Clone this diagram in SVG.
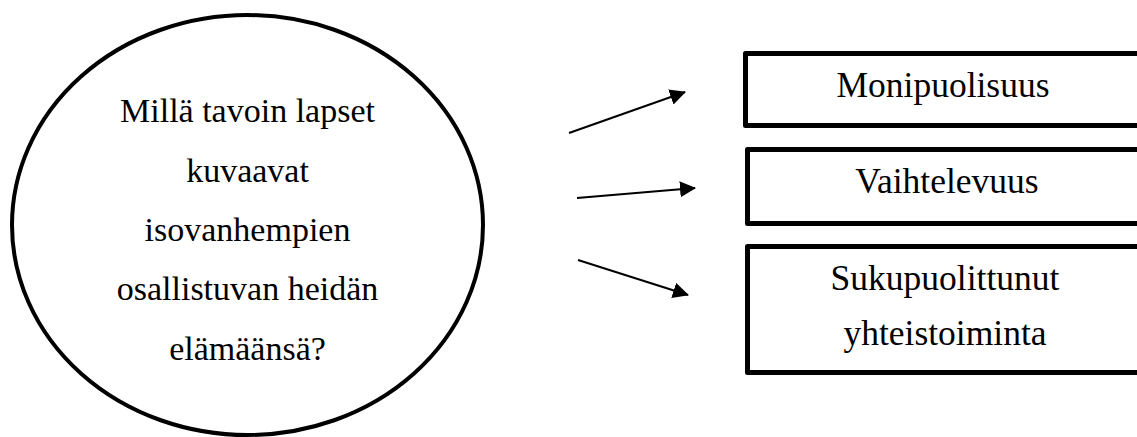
<svg xmlns="http://www.w3.org/2000/svg" width="1137" height="437" viewBox="0 0 1137 437">
<style>
text{font-family:"Liberation Serif","DejaVu Serif",serif;font-size:34px;fill:#000;text-anchor:middle}
.bt{font-size:35.5px}
.box{fill:#fff;stroke:#000;stroke-width:5;stroke-linejoin:round}
.ell{fill:#fff;stroke:#000;stroke-width:4}
.con{stroke:#000;stroke-width:2;fill:none}
</style>
<defs>
<marker id="ah" markerWidth="8" markerHeight="8" refX="7.5" refY="4" orient="auto" markerUnits="strokeWidth">
<path d="M0,0 L8,4 L0,8 Z" fill="#000"/>
</marker>
</defs>
<rect width="1137" height="437" fill="#fff"/>
<g id="question">
<ellipse class="ell" cx="247.5" cy="225" rx="235.5" ry="210"/>
<text x="247.5" y="122">Millä tavoin lapset</text>
<text x="247.5" y="182">kuvaavat</text>
<text x="247.5" y="241">isovanhempien</text>
<text x="247.5" y="300">osallistuvan heidän</text>
<text x="247.5" y="360">elämäänsä?</text>
</g>
<g id="monipuolisuus">
<rect class="box" x="745.5" y="53.5" width="400" height="72"/>
<text class="bt" x="943" y="97">Monipuolisuus</text>
</g>
<g id="vaihtelevuus">
<rect class="box" x="747.5" y="149.5" width="400" height="74"/>
<text class="bt" x="947" y="193">Vaihtelevuus</text>
</g>
<g id="sukupuolittunut">
<rect class="box" x="747.5" y="246.5" width="400" height="126"/>
<text class="bt" x="945" y="290">Sukupuolittunut</text>
<text class="bt" x="945" y="345">yhteistoiminta</text>
</g>
<g id="connectors">
<line class="con" x1="569" y1="133" x2="685" y2="92" marker-end="url(#ah)"/>
<line class="con" x1="577" y1="198" x2="695" y2="188" marker-end="url(#ah)"/>
<line class="con" x1="578" y1="260" x2="688" y2="295" marker-end="url(#ah)"/>
</g>
</svg>
